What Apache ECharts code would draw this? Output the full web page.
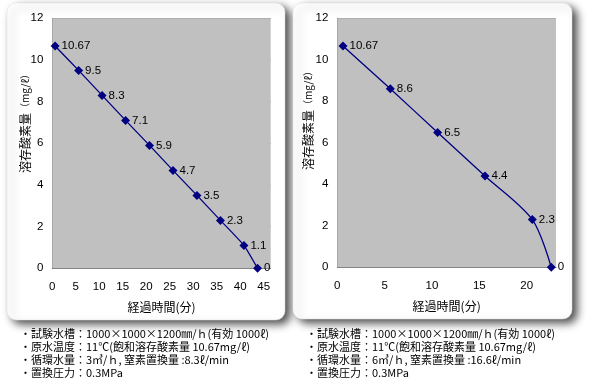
<!DOCTYPE html>
<html><head><meta charset="utf-8">
<script src="https://cdn.jsdelivr.net/npm/echarts@6/dist/echarts.min.js"></script>
<style>html,body{margin:0;padding:0;background:#fff}#c{width:590px;height:381px}</style>
</head><body><div id="c"></div>
<script>
// Left chart (3 m3/h)
const leftTime = [0.6, 5.6, 10.6, 15.6, 20.7, 25.7, 30.8, 35.8, 40.8, 43.7];
const leftDO   = [10.67, 9.5, 8.3, 7.1, 5.9, 4.7, 3.5, 2.3, 1.1, 0];
// Right chart (6 m3/h)
const rightTime = [0.6, 5.6, 10.6, 15.6, 20.6, 22.6];
const rightDO   = [10.67, 8.6, 6.5, 4.4, 2.3, 0];
const yTicks = [0, 2, 4, 6, 8, 10, 12];
const leftXTicks = [0, 5, 10, 15, 20, 25, 30, 35, 40, 45];
const rightXTicks = [0, 5, 10, 15, 20];
const yTitleMain = '溶存酸素量';
const yTitleUnit = '（mg/ℓ）';
const xTitle = '経過時間(分)';
const leftNotes = [
  '・試験水槽：1000×1000×1200㎜/ｈ(有効 1000ℓ)',
  '・原水温度：11℃(飽和溶存酸素量 10.67mg/ℓ)',
  '・循環水量：3㎥/ｈ, 窒素置換量 :8.3ℓ/min',
  '・置換圧力：0.3MPa'
];
const rightNotes = [
  '・試験水槽：1000×1000×1200㎜/ｈ(有効 1000ℓ)',
  '・原水温度：11℃(飽和溶存酸素量 10.67mg/ℓ)',
  '・循環水量：6㎥/ｈ, 窒素置換量 :16.6ℓ/min',
  '・置換圧力：0.3MPa'
];

const FONT = '"Noto Sans CJK JP", sans-serif';
const NUMFONT = '"Liberation Sans", Arial, sans-serif';

function pairs(xs, ys) { return xs.map((x, i) => [x, ys[i]]); }

function xAxisCfg(gi, max, ticks) {
  return {
    type: 'value', gridIndex: gi, min: 0, max: max, interval: 5,
    axisLine: { show: true, lineStyle: { color: '#707070', width: 1 } },
    axisTick: { show: true, inside: true, length: 4, lineStyle: { color: '#707070' } },
    splitLine: { show: false },
    axisLabel: {
      color: '#000', fontFamily: NUMFONT, fontSize: 11.5, margin: 13,
      showMaxLabel: false,
      formatter: v => ticks.indexOf(v) >= 0 ? String(v) : ''
    },
    name: xTitle, nameLocation: 'middle', nameGap: 33,
    nameTextStyle: { color: '#000', fontFamily: FONT, fontSize: 12 }
  };
}
function yAxisCfg(gi) {
  return {
    type: 'value', gridIndex: gi, min: 0, max: 12, interval: 2,
    axisLine: { show: true, lineStyle: { color: '#707070', width: 1 } },
    axisTick: { show: false },
    splitLine: { show: true, lineStyle: { color: '#7c7c7c', width: 1 } },
    axisLabel: {
      color: '#000', fontFamily: NUMFONT, fontSize: 11.5, margin: 9,
      formatter: v => yTicks.indexOf(v) >= 0 ? String(v) : ''
    }
  };
}
function seriesCfg(gi, data, smooth) {
  return {
    type: 'line', xAxisIndex: gi, yAxisIndex: gi, data: data,
    smooth: smooth,
    symbol: 'diamond', symbolSize: 9,
    lineStyle: { color: '#000080', width: 1.3 },
    itemStyle: { color: '#000080' },
    label: {
      show: true, position: 'right', distance: 2, color: '#000',
      fontFamily: NUMFONT, fontSize: 11.5,
      formatter: p => String(p.value[1])
    },
    animation: false
  };
}
function noteTexts(x, lines) {
  return lines.map((t, i) => ({
    type: 'text', x: x, y: 334 + i * 12.8, z: 10,
    style: { text: t, font: '11px ' + FONT, fill: '#000', verticalAlign: 'middle', align: 'left' }
  }));
}
function yTitle(x, y) {
  return {
    type: 'text', x: x, y: y, rotation: Math.PI / 2, z: 10,
    style: {
      text: '{a|' + yTitleMain + '}{b|' + yTitleUnit + '}',
      rich: {
        a: { font: '12px ' + FONT, fill: '#000' },
        b: { font: '10px ' + FONT, fill: '#000' }
      },
      align: 'center', verticalAlign: 'middle'
    }
  };
}

const chart = echarts.init(document.getElementById('c'), null, { renderer: 'canvas' });
chart.setOption({
  backgroundColor: '#fff',
  animation: false,
  grid: [
    { left: 52.3, top: 18.3, width: 218.4, height: 250, show: true, backgroundColor: '#c0c0c0', borderWidth: 0, z: 1 },
    { left: 337.3, top: 18.3, width: 218.7, height: 249, show: true, backgroundColor: '#c0c0c0', borderWidth: 0, z: 1 }
  ],
  xAxis: [xAxisCfg(0, 46.5, leftXTicks), xAxisCfg(1, 23.1, rightXTicks)],
  yAxis: [yAxisCfg(0), yAxisCfg(1)],
  series: [seriesCfg(0, pairs(leftTime, leftDO), 0.15), seriesCfg(1, pairs(rightTime, rightDO), 0.3)],
  graphic: [
    { type: 'rect', z: -10, shape: { x: 7, y: 3, width: 278, height: 317, r: 9 },
      style: { fill: '#fff', shadowBlur: 8, shadowOffsetX: 5, shadowOffsetY: 4, shadowColor: 'rgba(0,0,0,0.7)', stroke: '#e0e0e0', lineWidth: 0.5 } },
    { type: 'rect', z: -10, shape: { x: 293, y: 3, width: 279, height: 316, r: 9 },
      style: { fill: '#fff', shadowBlur: 8, shadowOffsetX: 5, shadowOffsetY: 4, shadowColor: 'rgba(0,0,0,0.7)', stroke: '#e0e0e0', lineWidth: 0.5 } },
    yTitle(25, 121),
    yTitle(308, 118)
  ].concat(noteTexts(20, leftNotes), noteTexts(306, rightNotes))
});
</script>
</body></html>
